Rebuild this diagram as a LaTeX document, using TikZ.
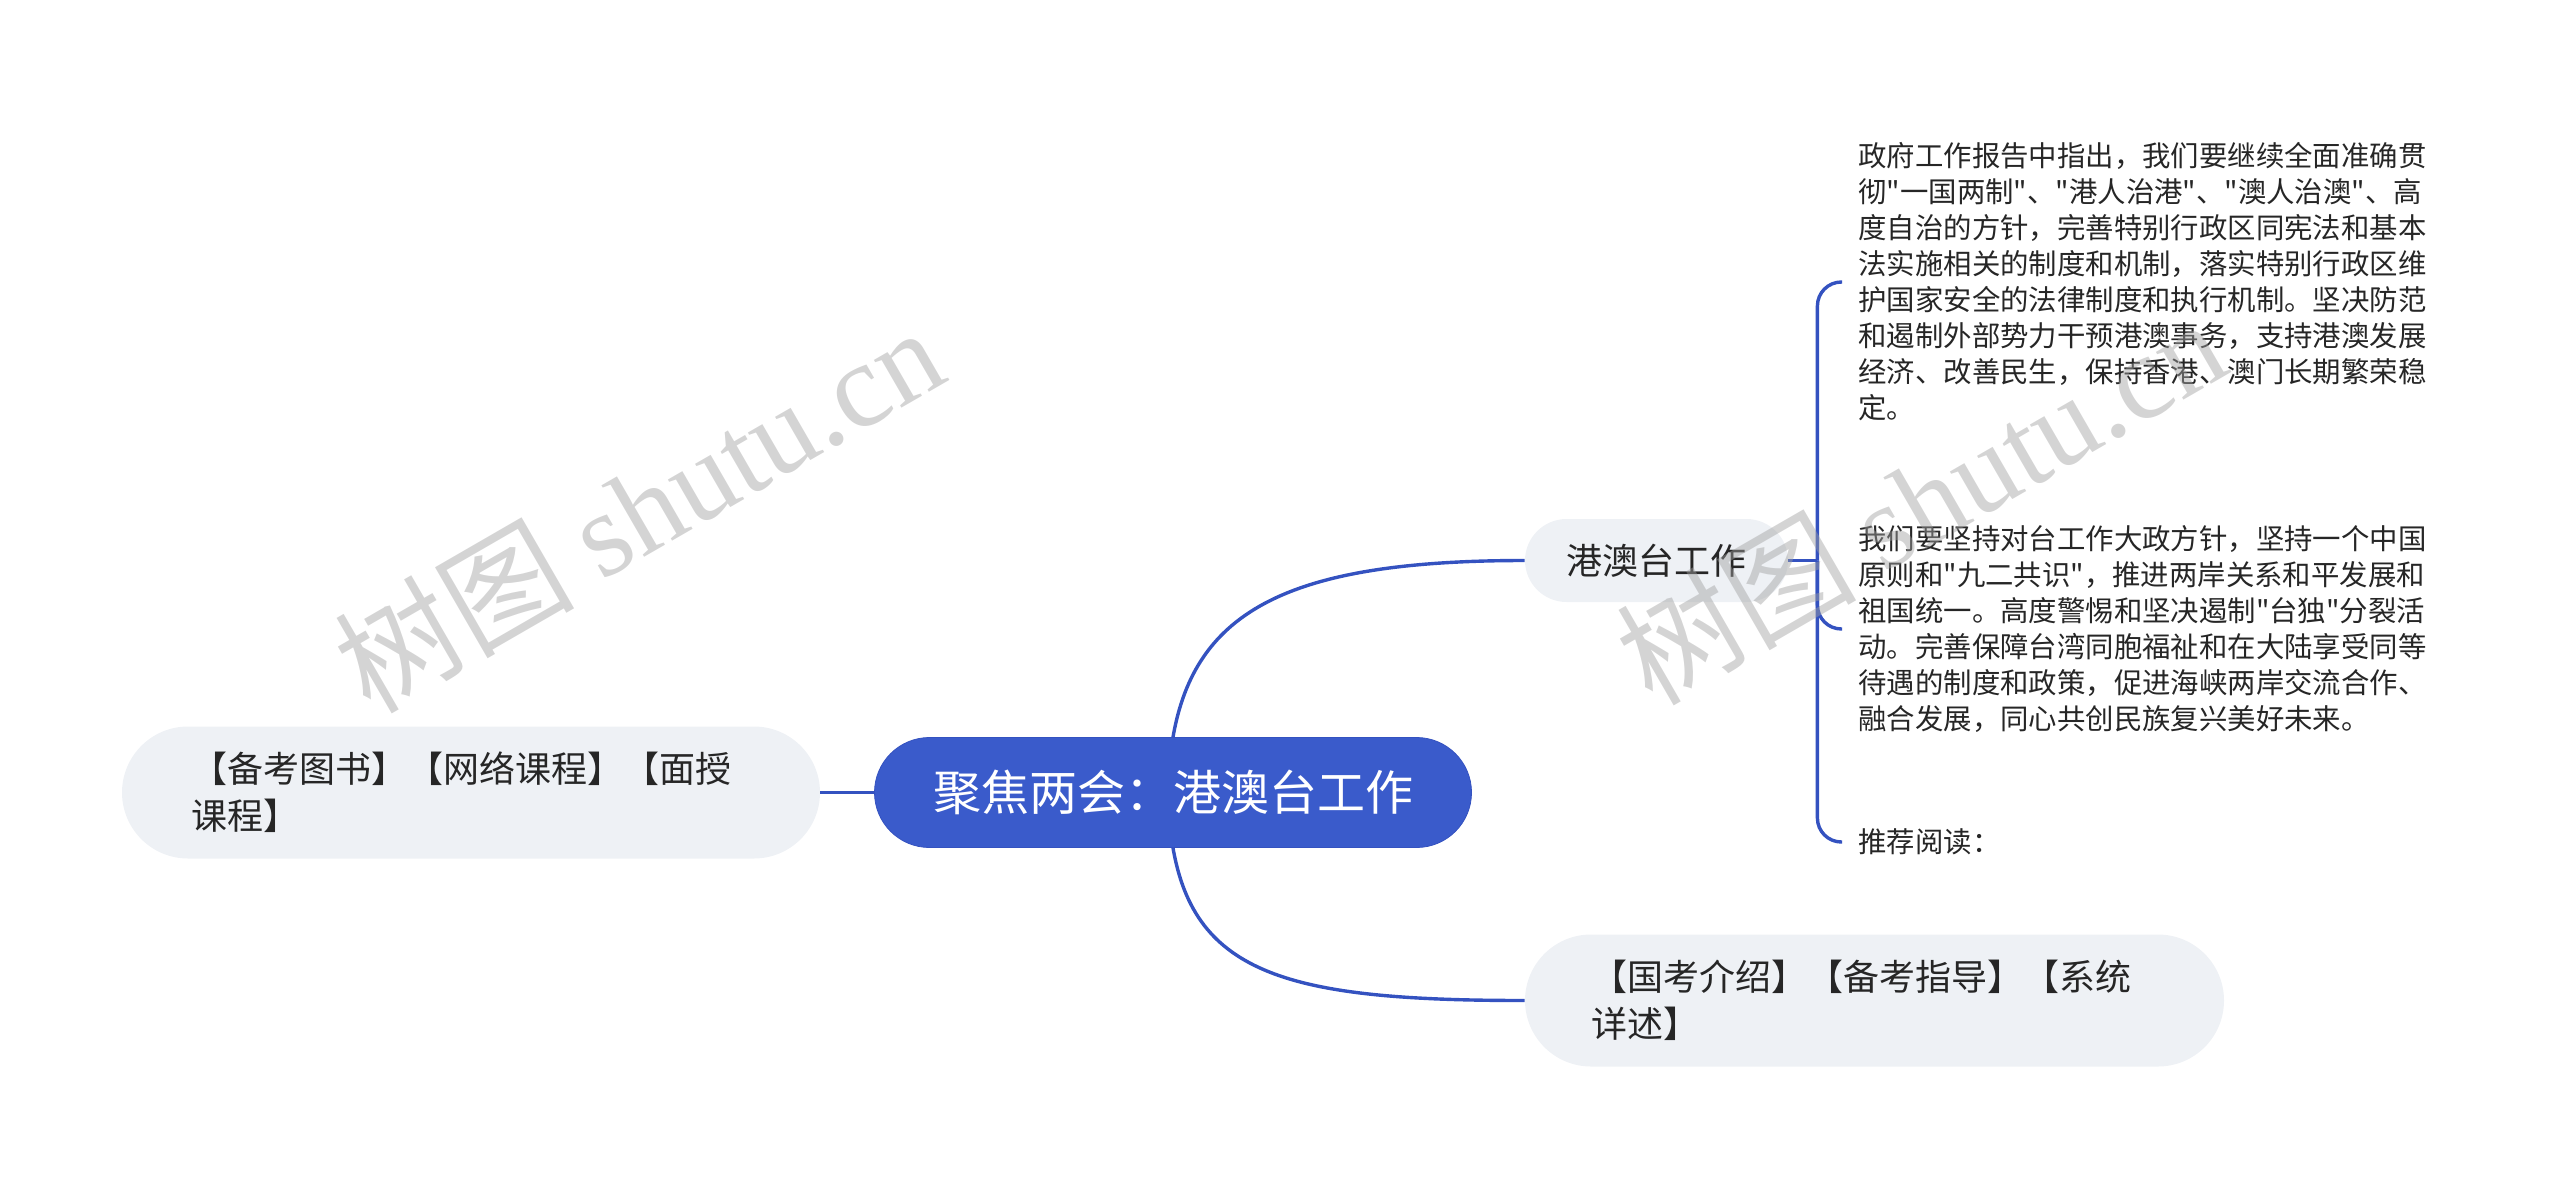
\documentclass[tikz,border=0pt]{standalone}
\usepackage{fontspec}
\usepackage{tikz}
\usetikzlibrary{calc}
\setmainfont{Noto Sans CJK SC}[Ligatures=TeXOff]
\newfontfamily\marklatin{Liberation Serif}
\definecolor{mapblue}{HTML}{3A5BCB}
\definecolor{mapline}{HTML}{3452C0}
\definecolor{maplight}{HTML}{EEF1F5}
\definecolor{maptext}{HTML}{262626}
\definecolor{mapmark}{HTML}{A0A0A0}

\begin{document}
\begin{tikzpicture}[x=0.5pt,y=-0.5pt]
    \tikzstyle{pill}=[rounded corners=33pt,fill=maplight,text=maptext,align=left,inner sep=0pt,font=\fontsize{18pt}{23.5pt}\selectfont]
    \tikzstyle{para}=[anchor=west,align=left,inner sep=8pt,text=maptext,font=\fontsize{14.2pt}{18pt}\selectfont]
    \tikzstyle{link}=[draw=mapline,line width=1.7pt]
    \tikzstyle{wmark}=[rotate=30,text=mapmark,opacity=0.45,font=\fontsize{60pt}{60pt}\selectfont]
    \useasboundingbox (0,0) rectangle (2560,1189);
    % main topic and its branches
    \node[rounded corners=27.5pt,fill=mapblue,draw=mapline,minimum width=298.5pt,minimum height=55pt,text=white,font=\fontsize{24pt}{28pt}\selectfont] (core) at (1173,792.5) {聚焦两会：港澳台工作};
    \node[pill,minimum width=349pt,minimum height=66pt,text width=280pt] (books) at (471,792.5) {【备考图书】【网络课程】【面授\\课程】};
    \node[pill,rounded corners=20.75pt,minimum width=131.5pt,minimum height=41.5pt] (gat) at (1656.5,560.5) {港澳台工作};
    \node[pill,minimum width=349.5pt,minimum height=66pt,text width=283.5pt] (exam) at (1874.5,1000.5) {【国考介绍】【备考指导】【系统\\详述】};
    % texts under 港澳台工作
    \node[para] (p1) at (1842,282) {政府工作报告中指出，我们要继续全面准确贯\\彻"一国两制"、"港人治港"、"澳人治澳"、高\\度自治的方针，完善特别行政区同宪法和基本\\法实施相关的制度和机制，落实特别行政区维\\护国家安全的法律制度和执行机制。坚决防范\\和遏制外部势力干预港澳事务，支持港澳发展\\经济、改善民生，保持香港、澳门长期繁荣稳\\定。};
    \node[para] (p2) at (1842,629) {我们要坚持对台工作大政方针，坚持一个中国\\原则和"九二共识"，推进两岸关系和平发展和\\祖国统一。高度警惕和坚决遏制"台独"分裂活\\动。完善保障台湾同胞福祉和在大陆享受同等\\待遇的制度和政策，促进海峡两岸交流合作、\\融合发展，同心共创民族复兴美好未来。};
    \node[para] (p3) at (1842,842) {推荐阅读：};
    \draw[link] (core.west) -- (books.east);
    \draw[link] (core.north) .. controls +(22,-127) and +(-235,0) .. (gat.west);
    \draw[link] (core.south) .. controls +(22,127) and +(-235,0) .. (exam.west);
    \coordinate (fork) at ($(gat.east)+(29,0)$);
    \draw[link] (gat.east) -- (fork);
    \foreach \p in {p1,p2,p3}
        \draw[link,rounded corners=12pt] (fork) |- (\p.west);
    % watermark
    \node[wmark] (wm1) at (638,508) {树图 {\marklatin shutu.cn}};
    \node[wmark] (wm2) at (1920,500) {树图 {\marklatin shutu.cn}};
\end{tikzpicture}
\end{document}
